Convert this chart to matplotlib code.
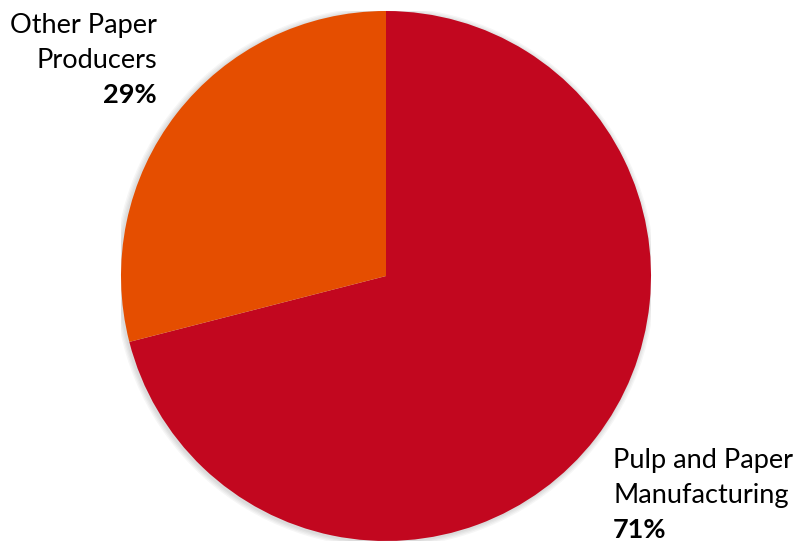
import matplotlib.pyplot as plt
from matplotlib.patches import Circle

labels = ["Pulp and Paper\nManufacturing", "Other Paper\nProducers"]
shares = [71, 29]
colors = ["#C2071F", "#E54E00"]

plt.rcParams["font.family"] = ["Lato", "DejaVu Sans"]

fig = plt.figure(figsize=(7.97, 5.44), dpi=100)
W, H = 797, 544
cx, cy, r = 386, 276, 265
ax = fig.add_axes([(cx - r) / W, (H - cy - r) / H, 2 * r / W, 2 * r / H])

# faint soft shadow around the disc
for k in range(1, 5):
    ax.add_patch(Circle((-0.004, -0.004), 1 + k * 0.005, color="#000000",
                        alpha=0.035, linewidth=0, zorder=0))

ax.pie(shares, colors=colors, startangle=90, counterclock=False,
       wedgeprops=dict(linewidth=0, zorder=1))
ax.set_xlim(-1, 1)
ax.set_ylim(-1, 1)
ax.set_aspect("equal")
ax.axis("off")

fs = 19.5
gap = 35

def label(x, y_base, ha, name, pct):
    lines = name.split("\n")
    for i, line in enumerate(lines):
        fig.text(x / W, 1 - (y_base + i * gap) / H, line, ha=ha, va="baseline",
                 fontsize=fs, color="black")
    fig.text(x / W, 1 - (y_base + len(lines) * gap) / H, f"{pct}%", ha=ha,
             va="baseline", fontsize=fs, fontweight="bold", color="black")

label(157, 33, "right", labels[1], shares[1])
label(613, 468, "left", labels[0], shares[0])

fig.savefig("out.png", dpi=100)
